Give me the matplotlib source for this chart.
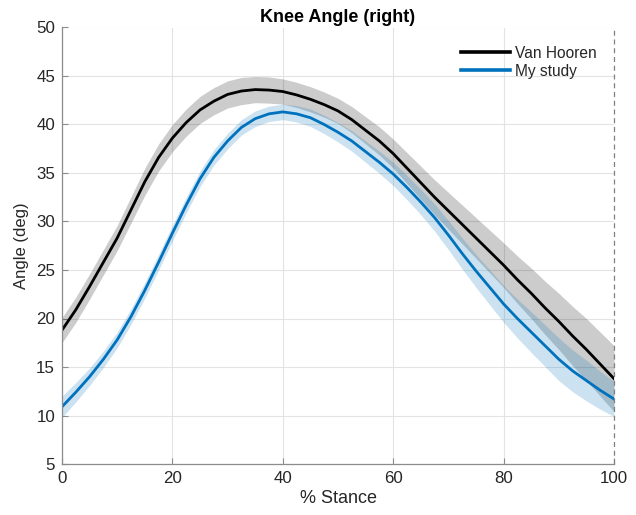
import matplotlib
matplotlib.use("Agg")
import matplotlib.pyplot as plt
import numpy as np

plt.rcParams['font.family'] = ['Liberation Sans', 'DejaVu Sans']

# % of stance phase, sampled every 2.5 %
stance = np.arange(0, 100.1, 2.5)

# Van Hooren reference: mean and SD of knee angle (deg)
vh_mean = [18.8, 20.9, 23.3, 25.8, 28.3, 31.2, 34.1, 36.6, 38.6, 40.2, 41.5,
           42.4, 43.1, 43.45, 43.6, 43.55, 43.4, 43.05, 42.6, 42.05, 41.4,
           40.5, 39.4, 38.3, 37.0, 35.5, 34.0, 32.5, 31.1, 29.7, 28.3,
           26.9, 25.5, 24.0, 22.6, 21.1, 19.7, 18.2, 16.8, 15.3, 13.8]
vh_sd = [1.3, 1.3, 1.3, 1.3, 1.3, 1.35, 1.4, 1.4, 1.4, 1.4, 1.4,
         1.4, 1.4, 1.4, 1.35, 1.35, 1.3, 1.3, 1.3, 1.3, 1.3,
         1.35, 1.4, 1.45, 1.5, 1.6, 1.7, 1.8, 1.9, 2.0, 2.1,
         2.2, 2.3, 2.45, 2.6, 2.75, 2.9, 3.05, 3.2, 3.3, 3.4]

# Own measurements: mean and SD of knee angle (deg)
my_mean = [10.9, 12.4, 14.0, 15.8, 17.8, 20.2, 22.9, 25.8, 28.8, 31.7, 34.4,
           36.6, 38.3, 39.7, 40.6, 41.1, 41.3, 41.1, 40.7, 40.0, 39.2,
           38.3, 37.2, 36.1, 34.9, 33.5, 32.0, 30.4, 28.6, 26.7, 24.9,
           23.2, 21.5, 20.0, 18.6, 17.2, 15.8, 14.6, 13.6, 12.6, 11.7]
my_sd = [1.1, 1.0, 0.9, 0.85, 0.8, 0.8, 0.8, 0.8, 0.8, 0.8, 0.8,
         0.8, 0.8, 0.8, 0.8, 0.8, 0.8, 0.85, 0.9, 0.95, 1.0,
         1.05, 1.1, 1.15, 1.2, 1.25, 1.3, 1.4, 1.5, 1.6, 1.7,
         1.8, 1.9, 2.0, 2.1, 2.15, 2.2, 2.15, 2.1, 1.95, 1.8]

x_ticks = [0, 20, 40, 60, 80, 100]
y_ticks = [5, 10, 15, 20, 25, 30, 35, 40, 45, 50]

BLUE = '#0072BD'
TEXT = '#262626'
AXIS = '#8c8c8c'

fig = plt.figure(figsize=(6.36, 5.15), dpi=100)
ax = fig.add_axes([62 / 636, (515 - 464) / 515, (614 - 62) / 636, (464 - 27.5) / 515])

x = stance
vm, vs = np.array(vh_mean), np.array(vh_sd)
mm, ms = np.array(my_mean), np.array(my_sd)

ax.fill_between(x, vm - vs, vm + vs, color='black', alpha=0.2, linewidth=0)
ax.fill_between(x, mm - ms, mm + ms, color=BLUE, alpha=0.2, linewidth=0)
ax.plot(x, vm, color='black', lw=2.0, label='Van Hooren', solid_joinstyle='round')
ax.plot(x, mm, color=BLUE, lw=2.0, label='My study', solid_joinstyle='round')

# end of stance marker
ax.axvline(100, color='#808080', lw=0.9, linestyle=(0, (4, 3)), zorder=5, clip_on=False)

ax.set_xlim(0, 100)
ax.set_ylim(5, 50)
ax.set_xticks(x_ticks)
ax.set_yticks(y_ticks)
ax.grid(True, color='#e3e3e3', lw=0.8)
ax.set_axisbelow(True)

for side in ('top', 'right'):
    ax.spines[side].set_visible(False)
for side in ('left', 'bottom'):
    ax.spines[side].set_color(AXIS)
    ax.spines[side].set_linewidth(0.9)

ax.tick_params(direction='in', length=4, width=0.8, color=AXIS,
               labelsize=12.2, labelcolor=TEXT, pad=5)

ax.set_xlabel('% Stance', fontsize=13, color=TEXT, labelpad=3)
ax.set_ylabel('Angle (deg)', fontsize=12, color=TEXT, labelpad=5)
ax.set_title('Knee Angle (right)', fontsize=13, fontweight='bold', color='black', pad=4)

leg = ax.legend(loc='upper right', bbox_to_anchor=(0.985, 0.98), frameon=False,
                fontsize=11.2, handlelength=3.15, handletextpad=0.3,
                labelspacing=0.2, borderaxespad=0.2)
for line in leg.get_lines():
    line.set_linewidth(2.6)
for t in leg.get_texts():
    t.set_color(TEXT)

fig.savefig('out.png', dpi=100)
